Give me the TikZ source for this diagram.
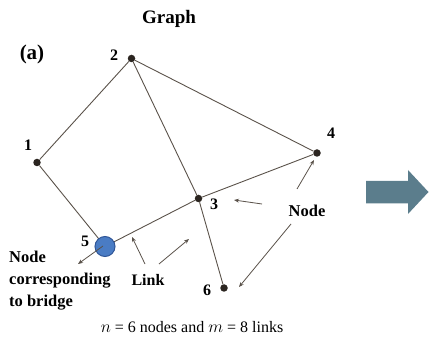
\documentclass[tikz,border=0pt]{standalone}
\usepackage{fontspec}
\setmainfont{Liberation Serif}
\usetikzlibrary{arrows.meta}
\definecolor{edgec}{HTML}{5A524A}
\definecolor{dotc}{HTML}{2B2520}
\definecolor{bluefill}{HTML}{4A7CC4}
\definecolor{blueedge}{HTML}{2F5597}
\definecolor{bigarrow}{HTML}{5B7D8C}
\tikzset{
  vert/.style={circle,fill=dotc,inner sep=0pt,minimum size=7.5pt},
  bridgev/.style={circle,fill=bluefill,draw=blueedge,line width=1pt,inner sep=0pt,minimum size=20pt},
  lbl/.style={font=\fontsize{16}{18}\selectfont\bfseries,inner sep=0pt},
  edge/.style={draw=edgec,line width=0.9pt},
  pointer/.style={draw=edgec,line width=0.8pt,-{Stealth[length=5pt,width=4pt]}}
}
\begin{document}
\begin{tikzpicture}[x=1pt,y=-1pt]
\useasboundingbox (0,0) rectangle (429,342);
% vertices
\node[vert] (v1) at (37,162.5) {};
\node[vert] (v2) at (131.5,58.5) {};
\node[vert] (v3) at (198.5,198.5) {};
\node[vert] (v4) at (317,153) {};
\node[vert] (v6) at (224,288) {};
% edges
\draw[edge] (v1) -- (v2);
\draw[edge] (v2) -- (v4);
\draw[edge] (v2) -- (v3);
\draw[edge] (v3) -- (v4);
\draw[edge] (v3) -- (v6);
\coordinate (c5) at (105,246.5);
\draw[edge] (v1) -- (c5);
\draw[edge] (c5) -- (v3);
\node[bridgev] (v5) at (c5) {};
% titles
\node[lbl,font=\fontsize{19}{21}\selectfont\bfseries] (title) at (169,19) {Graph};
\node[lbl,font=\fontsize{21}{23}\selectfont\bfseries] (tag) at (32,54) {(a)};
% vertex labels
\node[lbl] (l1) at (28,145) {1};
\node[lbl] (l2) at (114,55) {2};
\node[lbl] (l3) at (214,204) {3};
\node[lbl] (l4) at (331,133) {4};
\node[lbl] (l5) at (85,241) {5};
\node[lbl] (l6) at (207,290) {6};
% annotations
\node[lbl,align=left,anchor=west,font=\fontsize{16.5}{22}\selectfont\bfseries] (bridge) at (9,281) {Node\\corresponding\\to bridge};
\node[lbl] (link) at (148,280) {Link};
\node[lbl,font=\fontsize{16.5}{18}\selectfont\bfseries] (nodetxt) at (307,211) {Node};
% pointers
\coordinate (p5s) at (103,246);
\coordinate (p5e) at (78,264);
\draw[pointer] (p5s) -- (p5e);
\coordinate (la) at (145,264);
\coordinate (lat) at (132,237);
\draw[pointer] (la) -- (lat);
\coordinate (lb) at (159,264);
\coordinate (lbt) at (189,239);
\draw[pointer] (lb) -- (lbt);
\coordinate (na) at (262,204);
\coordinate (nat) at (234,200);
\draw[pointer] (na) -- (nat);
\coordinate (nb) at (297,189);
\coordinate (nbt) at (314,160);
\draw[pointer] (nb) -- (nbt);
\coordinate (nc) at (291,224);
\coordinate (nct) at (239,287);
\draw[pointer] (nc) -- (nct);
% caption
\node[inner sep=0pt,font=\fontsize{16}{18}\selectfont] (cap) at (192,327) {$n$ = 6 nodes and $m$ = 8 links};
% big arrow
\fill[bigarrow] (366,181) -- (408,181) -- (408,170) -- (428.5,192) -- (408,214) -- (408,203.5) -- (366,203.5) -- cycle;
\end{tikzpicture}
\end{document}
